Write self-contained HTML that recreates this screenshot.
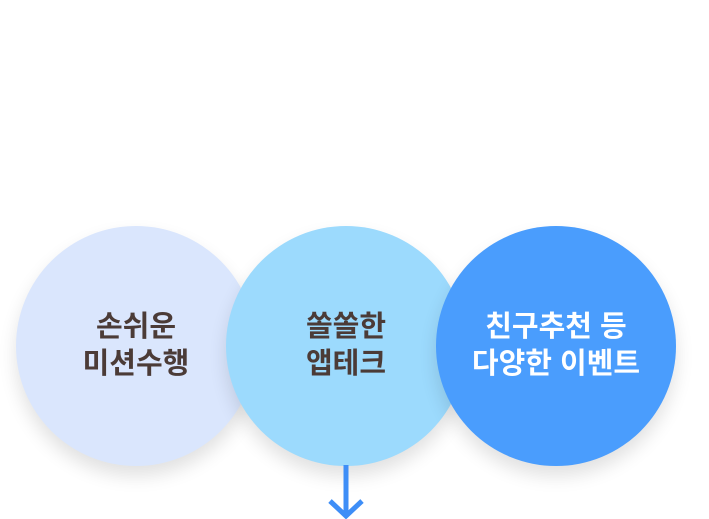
<!DOCTYPE html>
<html><head><meta charset="utf-8"><style>
body{margin:0;width:709px;height:519px;background:#fff;position:relative;overflow:hidden;font-family:"Liberation Sans","Noto Sans CJK KR",sans-serif}
.c{position:absolute;top:226px;width:240px;height:240px;border-radius:50%;display:flex;align-items:center;justify-content:center;text-align:center;font-size:29px;font-weight:bold;line-height:37px;color:#4b3b37;box-shadow:0 10px 18px rgba(0,0,0,0.12)}
</style></head><body>
<div class="c" style="left:16px;background:#dae6fd">손쉬운<br>미션수행</div>
<div class="c" style="left:226px;background:#9cdafd">쏠쏠한<br>앱테크</div>
<div class="c" style="left:436px;background:#4a9dfd;color:#fff">친구추천 등<br>다양한 이벤트</div>
<svg style="position:absolute;left:0;top:0" width="709" height="519">
<line x1="346" y1="465" x2="346" y2="514" stroke="#3e8ef7" stroke-width="5"/>
<polyline points="330,501 346,516 362,501" fill="none" stroke="#3e8ef7" stroke-width="5"/>
</svg>
</body></html>
